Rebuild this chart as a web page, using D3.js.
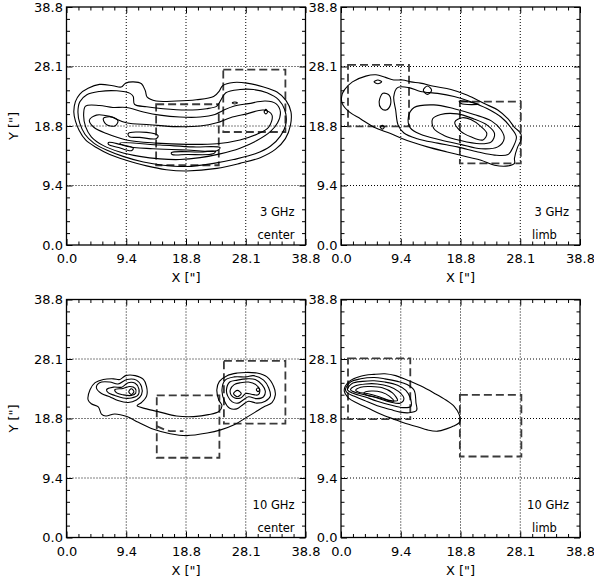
<!DOCTYPE html>
<html>
<head>
<meta charset="utf-8">
<script src="https://cdn.jsdelivr.net/npm/d3@7"></script>
<style>
  html, body { margin: 0; padding: 0; background: #fff; }
  svg { display: block; }
  text { font-family: "DejaVu Sans", sans-serif; fill: #000; }
</style>
</head>
<body>
<svg id="chart" width="594" height="581"></svg>
<script>
// Axis ticks (arcsec) and their printed labels
const tickValues = [0, 9.4, 18.8, 28.1, 38.8];
const tickLabels = ["0.0", "9.4", "18.8", "28.1", "38.8"];
const gridValues = [9.4, 18.8, 28.1];
const frequencies = ["3 GHz", "3 GHz", "10 GHz", "10 GHz"];
const regions = ["center", "limb", "center", "limb"];
const axisTitleX = 'X ["]';
const axisTitleY = 'Y ["]';

// Contour rings, [x, y] in arcsec
const contours3GHzCenter = [
  [[1.15,21.0],[1.4,22.6],[2.1,23.8],[3.4,24.7],[5.2,25.3],[7.3,25.1],[8.6,24.9],[9.3,25.5],[10.5,25.7],[11.8,25.4],[12.4,24.3],[12.7,23.3],[14.1,22.7],[17.3,22.7],[20.4,22.9],[23.1,23.4],[24.0,24.3],[24.5,25.1],[26.2,25.6],[28.3,25.5],[31.3,24.9],[33.7,24.1],[35.3,22.8],[36.2,21.0],[36.1,18.9],[35.2,16.8],[33.4,15.1],[30.7,13.8],[27.2,12.9],[23.6,12.1],[18.9,11.7],[15.7,11.9],[12.6,12.5],[9.4,13.4],[6.8,14.3],[4.7,15.4],[3.0,16.6],[2.0,18.1],[1.4,19.6]],
  [[1.8,21.0],[2.1,22.6],[3.2,23.7],[5.2,24.2],[7.9,24.3],[10.0,23.9],[10.5,23.4],[10.7,22.2],[12.6,21.8],[15.2,21.5],[18.9,21.3],[22.0,21.5],[23.6,21.9],[24.2,22.8],[25.0,24.0],[27.2,24.5],[29.5,24.5],[31.9,24.0],[34.0,22.9],[35.1,21.3],[35.3,19.2],[34.3,17.2],[32.5,15.6],[29.8,14.4],[26.2,13.5],[23.1,12.9],[18.9,12.4],[15.2,12.6],[12.1,13.1],[8.9,14.0],[6.3,15.0],[4.3,16.1],[2.9,17.5],[2.1,19.2]],
  [[2.7,20.7],[3.0,21.9],[5.2,22.0],[7.3,21.7],[9.4,21.7],[12.1,21.0],[14.7,20.5],[17.8,20.2],[21.0,20.2],[23.3,20.6],[24.5,21.2],[26.2,21.9],[28.6,22.3],[31.6,22.7],[33.5,22.3],[34.3,21.0],[33.8,19.3],[32.5,17.9],[30.1,16.5],[27.2,15.3],[24.1,14.4],[21.0,13.8],[17.8,13.5],[14.7,13.6],[11.5,14.0],[8.4,14.7],[5.8,15.7],[3.9,17.1],[3.0,18.7]],
  [[3.6,19.7],[4.7,20.5],[6.8,20.3],[9.4,19.3],[13.1,19.0],[17.3,18.7],[21.0,18.8],[23.6,19.3],[25.7,20.1],[28.3,20.7],[31.3,21.3],[32.8,20.5],[32.2,18.6],[30.1,17.5],[27.2,16.6],[23.6,16.0],[18.9,15.9],[14.1,16.1],[9.4,16.6],[6.3,17.6],[4.3,18.6]],
  [[5.8,20.0],[7.1,20.2],[8.1,19.6],[7.6,18.8],[6.2,19.1]],
  [[9.7,17.6],[12.6,17.8],[14.4,17.3],[14.1,16.8],[11.5,17.0],[9.9,17.1]],
  [[6.6,16.2],[8.4,15.9],[10.5,15.3],[10.2,14.9],[8.2,15.4],[6.6,15.9]],
  [[8.4,16.1],[14.7,15.8],[19.9,15.5],[24.1,15.4],[23.6,14.9],[18.9,15.0],[13.6,15.2],[9.4,15.6]],
  [[16.5,14.6],[21.0,14.7],[23.4,14.8],[23.0,14.4],[19.0,14.3],[16.6,14.3]],
  [[26.0,22.4],[26.4,22.55],[26.8,22.4],[26.4,22.25]],
  [[31.4,21.0],[31.7,21.4],[32.0,21.0],[31.7,20.7]]
];

const contours3GHzLimb = [
  [[0.5,24.4],[1.8,25.7],[3.9,26.6],[5.5,26.8],[7.0,26.4],[8.3,26.0],[9.7,26.0],[11.0,25.7],[12.5,25.5],[14.6,25.0],[17.3,24.5],[19.9,23.6],[22.5,22.3],[24.6,21.3],[26.2,19.9],[27.2,18.6],[28.2,17.6],[28.2,16.5],[27.7,15.5],[27.2,13.7],[27.2,12.9],[26.2,12.5],[24.1,12.6],[22.0,13.4],[19.9,13.9],[16.7,14.7],[13.6,15.5],[10.4,16.5],[7.8,17.6],[5.2,18.6],[3.1,19.9],[1.3,21.0],[0.2,22.3],[0.1,23.4]],
  [[8.9,24.8],[10.7,24.8],[12.5,24.2],[15.2,23.9],[17.8,23.4],[20.4,22.6],[23.0,21.5],[25.1,20.2],[26.6,18.6],[27.5,17.1],[27.0,15.5],[26.2,14.3],[24.1,14.2],[21.5,14.7],[18.3,15.5],[15.2,16.1],[12.0,16.8],[9.9,17.7],[9.0,18.9],[8.6,21.3],[8.3,23.4]],
  [[10.6,20.2],[11.5,21.7],[14.6,22.1],[17.8,21.5],[20.9,20.6],[23.6,19.6],[25.1,18.2],[25.6,16.8],[24.6,15.5],[22.0,15.2],[18.8,15.9],[15.7,16.6],[12.5,17.5],[10.9,18.5]],
  [[14.4,19.9],[15.7,20.6],[18.3,20.7],[20.9,19.9],[23.0,18.9],[24.1,17.6],[23.6,16.3],[21.8,16.0],[18.8,16.5],[16.2,17.3],[14.6,18.4]],
  [[17.9,19.4],[19.1,20.1],[20.4,19.8],[22.0,18.7],[22.9,17.6],[22.3,16.6],[20.4,17.1],[18.8,18.0]],
  [[5.2,25.7],[5.8,26.0],[6.4,25.7],[5.8,25.4]],
  [[6.0,22.6],[6.6,23.9],[7.6,23.6],[7.8,22.2],[7.1,21.3],[6.3,21.6]],
  [[12.95,24.4],[13.6,25.05],[14.25,24.4],[13.6,23.75]],
  [[6.2,18.6],[6.5,18.9],[6.8,18.6],[6.5,18.3]],
  [[18.6,22.7],[21.7,22.2],[18.9,22.3]]
];

const contours10GHzCenter = [
  [[3.4,21.7],[3.7,23.3],[4.5,24.4],[5.8,24.9],[7.4,25.0],[8.4,24.9],[9.3,25.5],[10.8,25.5],[12.1,24.9],[12.6,23.8],[12.6,22.3],[11.8,21.3],[11.1,20.8],[12.6,20.3],[14.7,19.8],[17.3,19.2],[20.0,19.1],[22.3,19.4],[23.9,19.9],[24.4,20.8],[23.9,21.7],[23.6,23.3],[24.0,24.6],[25.2,25.5],[26.8,25.9],[28.1,26.0],[30.1,25.9],[31.9,25.3],[33.1,23.8],[33.4,22.5],[32.8,21.3],[31.3,20.6],[29.8,19.8],[28.1,18.9],[26.3,17.8],[24.2,17.0],[22.1,16.5],[18.9,16.1],[16.3,16.4],[13.7,17.1],[11.3,18.2],[9.5,19.1],[7.6,19.5],[6.2,19.2],[5.5,19.5],[5.0,20.6],[3.9,21.1]],
  [[4.7,23.6],[5.2,24.4],[6.8,24.5],[8.1,24.2],[9.5,24.9],[11.0,24.8],[11.8,23.8],[11.8,22.5],[11.0,21.7],[9.7,21.3],[8.1,21.6],[6.8,22.2],[5.5,22.7]],
  [[6.3,23.3],[7.4,23.7],[8.7,23.7],[9.7,24.4],[10.8,24.3],[11.4,23.4],[11.2,22.4],[10.2,22.0],[8.9,22.0],[7.6,22.4],[6.6,22.8]],
  [[7.6,23.3],[8.9,23.5],[10.0,23.8],[10.8,23.5],[10.9,22.8],[10.2,22.4],[8.9,22.5],[7.9,22.8]],
  [[9.8,23.0],[10.2,23.45],[10.6,23.0],[10.2,22.55]],
  [[24.4,23.3],[24.9,24.8],[26.3,25.3],[28.1,25.3],[29.5,25.5],[31.3,24.8],[32.2,23.6],[32.5,22.3],[31.6,21.5],[30.1,21.2],[28.6,21.5],[27.7,21.0],[26.7,20.3],[25.6,20.4],[24.8,21.5]],
  [[25.1,23.3],[25.6,24.5],[26.8,24.8],[28.3,25.0],[29.8,24.9],[31.0,24.1],[31.6,23.1],[31.3,22.2],[30.1,21.9],[28.6,22.2],[27.7,21.7],[26.9,21.2],[26.0,21.4],[25.3,22.3]],
  [[25.7,23.3],[26.3,24.1],[27.3,24.4],[28.6,24.5],[29.9,24.1],[30.6,23.3],[30.3,22.5],[29.1,22.6],[28.1,22.7],[27.3,22.0],[26.4,22.0],[25.8,22.5]],
  [[26.2,22.7],[26.8,23.2],[27.4,22.7],[26.8,22.2]],
  [[30.0,23.3],[30.3,23.6],[30.6,23.3],[30.3,23.0]]
];

const contours10GHzLimb = [
  [[0.5,23.2],[1.3,24.6],[3.1,25.4],[5.2,25.7],[6.9,25.8],[8.6,25.5],[10.4,24.8],[12.5,23.9],[14.6,22.8],[16.5,21.7],[17.8,20.7],[18.6,19.4],[18.7,18.3],[17.7,17.6],[16.7,17.2],[15.2,16.8],[13.6,17.0],[12.0,17.5],[10.2,18.0],[8.3,18.7],[6.2,19.5],[4.3,20.4],[2.6,21.2],[1.2,22.0]],
  [[0.7,23.3],[1.5,24.5],[3.1,25.0],[5.2,25.2],[6.9,25.0],[8.9,24.6],[10.4,24.1],[11.5,23.2],[11.8,21.2],[11.9,20.1],[10.7,19.7],[9.3,19.8],[7.8,20.2],[5.7,20.8],[3.7,21.6],[2.0,22.3],[1.0,22.8]],
  [[1.0,23.3],[1.8,24.3],[3.4,24.6],[5.2,24.7],[6.9,24.5],[8.9,24.0],[10.2,23.2],[10.9,22.0],[11.0,20.7],[9.7,20.5],[7.8,20.9],[5.7,21.5],[3.7,22.2],[2.0,22.7]],
  [[1.5,23.3],[2.3,23.9],[3.9,24.2],[5.7,24.2],[7.6,23.8],[9.1,23.0],[9.9,21.9],[9.3,21.2],[7.7,21.4],[5.7,22.0],[3.7,22.5],[2.2,22.9]],
  [[2.3,23.2],[3.1,23.7],[4.7,23.8],[6.5,23.6],[8.1,22.8],[8.9,21.6],[7.8,21.6],[6.0,22.2],[4.1,22.7],[2.8,22.9]],
  [[3.6,22.8],[4.8,23.1],[6.4,22.9],[7.6,22.3],[8.3,21.5],[6.8,21.8],[5.2,22.2],[3.9,22.5]]
];

// Dashed regions: [x0, y0, x1, y1] in arcsec
const boxes3GHzCenter = [[24.6,17.85,35.2,27.6],[14.1,12.6,23.9,22.2]];
const boxes3GHzLimb = [[1.1,18.75,10.7,28.4],[18.7,12.9,28.2,22.6]];
const boxes10GHzCenter = [[24.7,18.0,35.2,27.8],[14.2,12.6,24.0,22.4]];
const boxes10GHzLimb = [[1.1,18.7,10.9,28.2],[18.7,12.8,28.3,22.5]];

// Open dashed traces, [x, y] in arcsec
const traces10GHzCenter = [[[14.2,17.6],[15.5,17.0],[16.3,16.8],[18.4,16.8]]];

const panels = [
  { contours: contours3GHzCenter, boxes: boxes3GHzCenter, traces: [], freq: frequencies[0], region: regions[0], yTitle: true },
  { contours: contours3GHzLimb, boxes: boxes3GHzLimb, traces: [], freq: frequencies[1], region: regions[1], yTitle: false },
  { contours: contours10GHzCenter, boxes: boxes10GHzCenter, traces: traces10GHzCenter, freq: frequencies[2], region: regions[2], yTitle: true },
  { contours: contours10GHzLimb, boxes: boxes10GHzLimb, traces: [], freq: frequencies[3], region: regions[3], yTitle: false }
];

const W = 239, H = 238;
const origins = [[66.5, 7], [341, 7], [66.5, 299.5], [341, 299.5]];

// minor ticks: five subdivisions per major interval
const minorValues = [];
for (let k = 0; k < tickValues.length - 1; k++) {
  for (let j = 1; j < 5; j++) {
    minorValues.push(tickValues[k] + (tickValues[k + 1] - tickValues[k]) * j / 5);
  }
}

const svg = d3.select("#chart");

panels.forEach((p, i) => {
  const [ox, oy] = origins[i];
  const x = d3.scaleLinear().domain(tickValues).range(tickValues.map((_, k) => k * W / 4));
  const y = d3.scaleLinear().domain(tickValues).range(tickValues.map((_, k) => H - k * H / 4));
  const g = svg.append("g").attr("transform", `translate(${ox},${oy})`);

  // dotted grid
  g.append("g").selectAll("line").data(gridValues).join("line")
    .attr("x1", d => x(d)).attr("x2", d => x(d)).attr("y1", 0).attr("y2", H)
    .attr("stroke", "#000").attr("stroke-width", 1).attr("stroke-dasharray", "1,2");
  g.append("g").selectAll("line").data(gridValues).join("line")
    .attr("y1", d => y(d)).attr("y2", d => y(d)).attr("x1", 0).attr("x2", W)
    .attr("stroke", "#000").attr("stroke-width", 1).attr("stroke-dasharray", "1,2");

  // dashed regions
  g.append("g").selectAll("rect").data(p.boxes).join("rect")
    .attr("x", d => x(d[0])).attr("y", d => y(d[3]))
    .attr("width", d => x(d[2]) - x(d[0])).attr("height", d => y(d[1]) - y(d[3]))
    .attr("fill", "none").attr("stroke", "#3a3a3a").attr("stroke-width", 1.8)
    .attr("stroke-dasharray", "8,4");

  // open dashed traces
  const openLine = d3.line().x(d => x(d[0])).y(d => y(d[1]));
  g.append("g").selectAll("path").data(p.traces).join("path")
    .attr("d", openLine).attr("fill", "none").attr("stroke", "#3a3a3a")
    .attr("stroke-width", 1.8).attr("stroke-dasharray", "8,4");

  // contours
  const line = d3.line().x(d => x(d[0])).y(d => y(d[1])).curve(d3.curveCatmullRomClosed.alpha(0.5));
  g.append("g").selectAll("path").data(p.contours).join("path")
    .attr("d", line).attr("fill", "none").attr("stroke", "#000").attr("stroke-width", 1.1);

  // axes: inward ticks on all four sides
  const styleAxis = sel => {
    sel.select(".domain").remove();
    sel.selectAll(".tick line").attr("stroke", "#000").attr("stroke-width", 1);
    sel.selectAll("text").attr("font-family", '"DejaVu Sans", sans-serif').attr("font-size", 13).attr("fill", "#000");
  };
  const fmt = (d, k) => tickLabels[k];
  g.append("g").attr("transform", `translate(0,${H})`)
    .call(d3.axisBottom(x).tickValues(tickValues).tickFormat(fmt).tickSize(-6).tickPadding(9)).call(styleAxis);
  g.append("g").attr("transform", `translate(0,${H})`)
    .call(d3.axisBottom(x).tickValues(minorValues).tickFormat("").tickSize(-3.5)).call(styleAxis);
  g.append("g")
    .call(d3.axisTop(x).tickValues(tickValues).tickFormat("").tickSize(-6)).call(styleAxis);
  g.append("g")
    .call(d3.axisTop(x).tickValues(minorValues).tickFormat("").tickSize(-3.5)).call(styleAxis);
  g.append("g")
    .call(d3.axisLeft(y).tickValues(tickValues).tickFormat(fmt).tickSize(-6).tickPadding(3.5)).call(styleAxis);
  g.append("g")
    .call(d3.axisLeft(y).tickValues(minorValues).tickFormat("").tickSize(-3.5)).call(styleAxis);
  g.append("g").attr("transform", `translate(${W},0)`)
    .call(d3.axisRight(y).tickValues(tickValues).tickFormat("").tickSize(-6)).call(styleAxis);
  g.append("g").attr("transform", `translate(${W},0)`)
    .call(d3.axisRight(y).tickValues(minorValues).tickFormat("").tickSize(-3.5)).call(styleAxis);

  // frame
  g.append("rect").attr("width", W).attr("height", H)
    .attr("fill", "none").attr("stroke", "#000").attr("stroke-width", 1.3);

  // titles
  g.append("text").attr("x", W / 2).attr("y", H + 37).attr("text-anchor", "middle")
    .attr("font-size", 13).text(axisTitleX);
  if (p.yTitle) {
    g.append("text").attr("transform", `translate(${18 - ox},${H / 2}) rotate(-90)`)
      .attr("text-anchor", "middle").attr("font-size", 13).text(axisTitleY);
  }

  // annotations
  g.append("text").attr("x", W - 11).attr("y", H - 29).attr("text-anchor", "end")
    .attr("font-size", 11.5).text(p.freq);
  g.append("text").attr("x", W - 48).attr("y", H - 6).attr("text-anchor", "start")
    .attr("font-size", 11.5).text(p.region);
});
</script>
</body>
</html>
